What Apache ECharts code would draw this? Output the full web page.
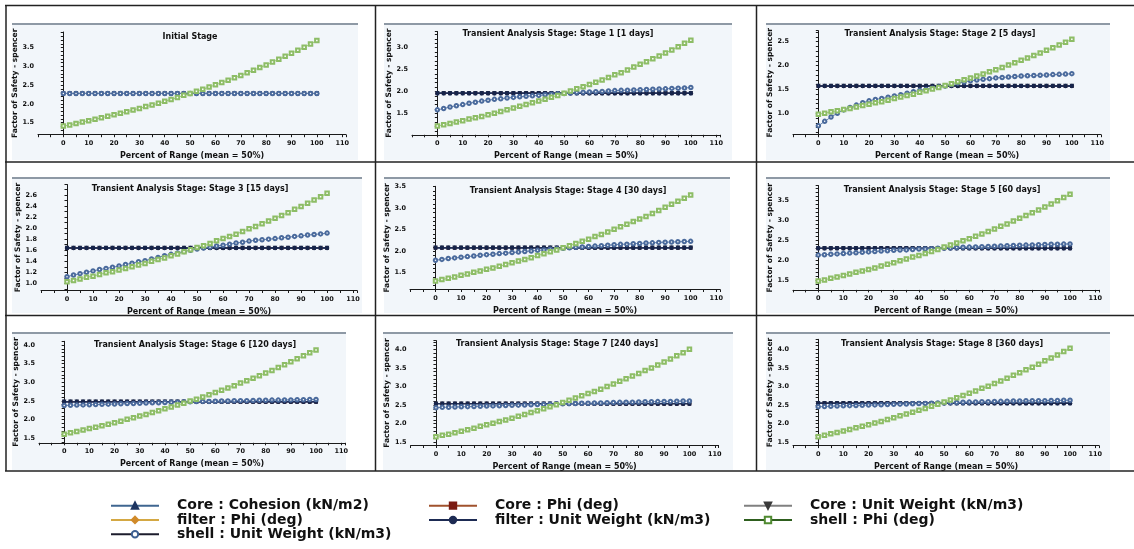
<!DOCTYPE html>
<html><head><meta charset="utf-8">
<script src="https://cdn.jsdelivr.net/npm/echarts@6/dist/echarts.min.js"></script>
<style>html,body{margin:0;padding:0;background:#fff}#c{width:1134px;height:549px}</style>
</head><body><div id="c"></div>
<script>
// ---------- DATA ----------
const xPct = [0,2.5,5,7.5,10,12.5,15,17.5,20,22.5,25,27.5,30,32.5,35,37.5,40,42.5,45,47.5,50,
  52.5,55,57.5,60,62.5,65,67.5,70,72.5,75,77.5,80,82.5,85,87.5,90,92.5,95,97.5,100];
const xTickLabels = [0,10,20,30,40,50,60,70,80,90,100,110];
const stageTitles = ['Initial Stage','Transient Analysis Stage: Stage 1 [1 days]','Transient Analysis Stage: Stage 2 [5 days]',
  'Transient Analysis Stage: Stage 3 [15 days]','Transient Analysis Stage: Stage 4 [30 days]','Transient Analysis Stage: Stage 5 [60 days]',
  'Transient Analysis Stage: Stage 6 [120 days]','Transient Analysis Stage: Stage 7 [240 days]','Transient Analysis Stage: Stage 8 [360 days]'];

// flat lines (Core cohesion / Core phi / filter phi / Core unit weight / filter unit weight)
const flat0 = [2.28,2.28,2.28,2.28,2.28,2.28,2.28,2.28,2.28,2.28,2.28,2.28,2.28,2.28,2.28,2.28,2.28,2.28,2.28,2.28,2.28,2.28,2.28,2.28,2.28,2.28,2.28,2.28,2.28,2.28,2.28,2.28,2.28,2.28,2.28,2.28,2.28,2.28,2.28,2.28,2.28];
const flat1 = [1.96,1.96,1.96,1.96,1.96,1.96,1.96,1.96,1.96,1.96,1.96,1.96,1.96,1.96,1.96,1.96,1.96,1.96,1.96,1.96,1.96,1.96,1.96,1.96,1.96,1.96,1.96,1.96,1.96,1.96,1.96,1.96,1.96,1.96,1.96,1.96,1.96,1.96,1.96,1.96,1.96];
const flat2 = [1.57,1.57,1.57,1.57,1.57,1.57,1.57,1.57,1.57,1.57,1.57,1.57,1.57,1.57,1.57,1.57,1.57,1.57,1.57,1.57,1.57,1.57,1.57,1.57,1.57,1.57,1.57,1.57,1.57,1.57,1.57,1.57,1.57,1.57,1.57,1.57,1.57,1.57,1.57,1.57,1.57];
const flat3 = [1.64,1.64,1.64,1.64,1.64,1.64,1.64,1.64,1.64,1.64,1.64,1.64,1.64,1.64,1.64,1.64,1.64,1.64,1.64,1.64,1.64,1.64,1.64,1.64,1.64,1.64,1.64,1.64,1.64,1.64,1.64,1.64,1.64,1.64,1.64,1.64,1.64,1.64,1.64,1.64,1.64];
const flat4 = [2.08,2.08,2.08,2.08,2.08,2.08,2.08,2.08,2.08,2.08,2.08,2.08,2.08,2.08,2.08,2.08,2.08,2.08,2.08,2.08,2.08,2.08,2.08,2.08,2.08,2.08,2.08,2.08,2.08,2.08,2.08,2.08,2.08,2.08,2.08,2.08,2.08,2.08,2.08,2.08,2.08];
const flat5 = [2.31,2.31,2.31,2.31,2.31,2.31,2.31,2.31,2.31,2.31,2.31,2.31,2.31,2.31,2.31,2.31,2.31,2.31,2.31,2.31,2.31,2.31,2.31,2.31,2.31,2.31,2.31,2.31,2.31,2.31,2.31,2.31,2.31,2.31,2.31,2.31,2.31,2.31,2.31,2.31,2.31];
const flat6 = [2.48,2.48,2.48,2.48,2.48,2.48,2.48,2.48,2.48,2.48,2.48,2.48,2.48,2.48,2.48,2.48,2.48,2.48,2.48,2.48,2.48,2.48,2.48,2.48,2.48,2.48,2.48,2.48,2.48,2.48,2.48,2.48,2.48,2.48,2.48,2.48,2.48,2.48,2.48,2.48,2.48];
const flat7 = [2.54,2.54,2.54,2.54,2.54,2.54,2.54,2.54,2.54,2.54,2.54,2.54,2.54,2.54,2.54,2.54,2.54,2.54,2.54,2.54,2.54,2.54,2.54,2.54,2.54,2.54,2.54,2.54,2.54,2.54,2.54,2.54,2.54,2.54,2.54,2.54,2.54,2.54,2.54,2.54,2.54];
const flat8 = [2.55,2.55,2.55,2.55,2.55,2.55,2.55,2.55,2.55,2.55,2.55,2.55,2.55,2.55,2.55,2.55,2.55,2.55,2.55,2.55,2.55,2.55,2.55,2.55,2.55,2.55,2.55,2.55,2.55,2.55,2.55,2.55,2.55,2.55,2.55,2.55,2.55,2.55,2.55,2.55,2.55];

// shell : Unit Weight (kN/m3)
const shellUW0 = flat0;
const shellUW1 = [1.58,1.61,1.645,1.675,1.70,1.73,1.755,1.78,1.80,1.82,1.835,1.85,1.865,1.88,1.89,1.90,1.91,1.925,1.935,1.945,
  1.955,1.965,1.975,1.98,1.99,1.995,2.00,2.01,2.02,2.025,2.03,2.035,2.04,2.045,2.05,2.055,2.06,2.07,2.075,2.08,2.09];
const shellUW2 = [0.735,0.83,0.92,1.00,1.07,1.12,1.17,1.22,1.26,1.29,1.31,1.335,1.36,1.39,1.42,1.45,1.48,1.50,1.525,1.55,
  1.57,1.60,1.63,1.655,1.68,1.695,1.71,1.725,1.74,1.75,1.76,1.77,1.78,1.785,1.79,1.795,1.80,1.81,1.815,1.82,1.83];
const shellUW3 = [1.12,1.15,1.175,1.20,1.225,1.25,1.27,1.29,1.315,1.34,1.365,1.39,1.41,1.44,1.47,1.50,1.525,1.55,1.575,1.60,
  1.62,1.64,1.655,1.675,1.69,1.71,1.73,1.745,1.765,1.78,1.79,1.80,1.81,1.825,1.835,1.85,1.86,1.875,1.885,1.895,1.91];
const shellUW4 = [1.79,1.81,1.83,1.845,1.86,1.875,1.89,1.905,1.92,1.93,1.945,1.955,1.97,1.98,1.995,2.005,2.02,2.03,2.045,2.055,
  2.07,2.08,2.09,2.10,2.11,2.12,2.13,2.14,2.15,2.16,2.165,2.175,2.18,2.19,2.195,2.205,2.21,2.215,2.22,2.225,2.23];
const shellUW5 = [2.14,2.15,2.16,2.17,2.18,2.19,2.20,2.21,2.22,2.23,2.24,2.25,2.26,2.265,2.27,2.28,2.29,2.295,2.30,2.31,
  2.315,2.32,2.33,2.335,2.34,2.345,2.35,2.355,2.36,2.37,2.375,2.38,2.385,2.39,2.395,2.40,2.405,2.41,2.41,2.415,2.42];
const shellUW6 = [2.38,2.385,2.39,2.395,2.40,2.405,2.41,2.415,2.42,2.425,2.43,2.435,2.44,2.445,2.45,2.455,2.46,2.465,2.47,2.475,
  2.48,2.485,2.49,2.49,2.495,2.50,2.50,2.505,2.51,2.51,2.515,2.52,2.52,2.525,2.525,2.53,2.53,2.535,2.535,2.54,2.54];
const shellUW7 = [2.43,2.44,2.445,2.45,2.455,2.46,2.465,2.47,2.475,2.48,2.485,2.49,2.495,2.50,2.505,2.51,2.515,2.52,2.525,2.53,
  2.535,2.54,2.545,2.55,2.55,2.555,2.56,2.565,2.57,2.575,2.58,2.58,2.585,2.59,2.59,2.595,2.60,2.60,2.605,2.61,2.61];
const shellUW8 = [2.455,2.46,2.47,2.475,2.48,2.485,2.49,2.495,2.50,2.505,2.51,2.515,2.52,2.525,2.53,2.535,2.54,2.545,2.55,2.555,
  2.56,2.565,2.57,2.575,2.58,2.585,2.59,2.59,2.595,2.60,2.605,2.61,2.61,2.615,2.615,2.62,2.62,2.625,2.625,2.63,2.63];

// shell : Phi (deg)
const shellPhi0 = [1.41,1.44,1.48,1.52,1.55,1.59,1.63,1.67,1.71,1.75,1.79,1.84,1.88,1.93,1.97,2.02,2.07,2.12,2.17,2.23,
  2.28,2.34,2.39,2.45,2.51,2.57,2.63,2.70,2.76,2.83,2.90,2.97,3.04,3.12,3.19,3.27,3.35,3.43,3.51,3.60,3.69];
const shellPhi1 = [1.21,1.24,1.27,1.30,1.33,1.37,1.40,1.43,1.47,1.50,1.54,1.58,1.62,1.66,1.70,1.74,1.78,1.82,1.87,1.91,
  1.96,2.01,2.06,2.11,2.16,2.21,2.26,2.32,2.38,2.43,2.49,2.56,2.62,2.68,2.75,2.81,2.88,2.95,3.02,3.10,3.17];
const shellPhi2 = [0.98,1.00,1.03,1.05,1.08,1.10,1.13,1.16,1.19,1.22,1.24,1.27,1.31,1.34,1.37,1.40,1.44,1.47,1.51,1.54,
  1.58,1.62,1.66,1.70,1.74,1.78,1.82,1.87,1.91,1.96,2.01,2.06,2.11,2.16,2.21,2.26,2.32,2.37,2.43,2.49,2.55];
const shellPhi3 = [1.03,1.05,1.08,1.11,1.13,1.16,1.19,1.21,1.24,1.27,1.30,1.33,1.36,1.40,1.43,1.46,1.50,1.53,1.57,1.61,
  1.65,1.68,1.72,1.77,1.81,1.85,1.89,1.94,1.99,2.03,2.08,2.13,2.18,2.23,2.28,2.34,2.39,2.45,2.51,2.57,2.63];
const shellPhi4 = [1.31,1.34,1.37,1.40,1.44,1.47,1.51,1.54,1.58,1.61,1.65,1.69,1.73,1.77,1.81,1.85,1.90,1.94,1.99,2.03,
  2.08,2.13,2.18,2.23,2.28,2.34,2.39,2.45,2.51,2.57,2.63,2.69,2.75,2.81,2.88,2.95,3.02,3.09,3.16,3.23,3.31];
const shellPhi5 = [1.49,1.52,1.56,1.59,1.63,1.67,1.71,1.74,1.78,1.82,1.87,1.91,1.95,2.00,2.04,2.09,2.13,2.18,2.23,2.28,
  2.34,2.39,2.44,2.50,2.55,2.61,2.67,2.73,2.79,2.86,2.92,2.99,3.06,3.13,3.20,3.27,3.34,3.42,3.50,3.58,3.66];
const shellPhi6 = [1.61,1.65,1.68,1.72,1.76,1.80,1.84,1.88,1.92,1.96,2.01,2.05,2.10,2.14,2.19,2.24,2.29,2.34,2.39,2.44,
  2.50,2.55,2.61,2.67,2.73,2.79,2.85,2.91,2.98,3.04,3.11,3.18,3.25,3.32,3.40,3.47,3.55,3.63,3.71,3.79,3.87];
const shellPhi7 = [1.65,1.69,1.72,1.76,1.80,1.84,1.88,1.93,1.97,2.01,2.06,2.10,2.15,2.20,2.25,2.30,2.35,2.40,2.46,2.51,
  2.57,2.63,2.69,2.75,2.81,2.87,2.93,3.00,3.07,3.14,3.21,3.28,3.35,3.43,3.50,3.58,3.66,3.74,3.83,3.91,4.00];
const shellPhi8 = [1.65,1.69,1.73,1.76,1.80,1.84,1.89,1.93,1.97,2.02,2.06,2.11,2.16,2.21,2.26,2.31,2.36,2.41,2.47,2.52,
  2.58,2.64,2.70,2.76,2.82,2.88,2.95,3.01,3.08,3.15,3.22,3.30,3.37,3.45,3.52,3.60,3.69,3.77,3.85,3.94,4.03];

// y axis extents and label steps per panel
const yMin = [1.18,1.01,0.55,0.87,1.11,1.27,1.38,1.415,1.41];
const yMax = [3.92,3.37,2.73,2.79,3.51,3.88,4.10,4.235,4.27];
const yLabelStep = [0.5,0.5,0.5,0.2,0.5,0.5,0.5,0.5,0.5];

const flats = [flat0,flat1,flat2,flat3,flat4,flat5,flat6,flat7,flat8];
const shellUWs = [shellUW0,shellUW1,shellUW2,shellUW3,shellUW4,shellUW5,shellUW6,shellUW7,shellUW8];
const shellPhis = [shellPhi0,shellPhi1,shellPhi2,shellPhi3,shellPhi4,shellPhi5,shellPhi6,shellPhi7,shellPhi8];

// ---------- LAYOUT ----------
const FONT = 'DejaVu Sans';
const layout = [
  {left:38,   top:32,    width:308, height:102.7, tx:190, ty:38,  bg:[12,24,346,136]},
  {left:412,  top:31.5,  width:308, height:103.3, tx:558, ty:35,  bg:[384,24,348,136]},
  {left:793,  top:30.7,  width:308, height:104,   tx:940, ty:35,  bg:[766,24,344,136]},
  {left:41,   top:184.5, width:316, height:106,   tx:190, ty:190, bg:[12,178,350,135]},
  {left:410,  top:186.3, width:310, height:103.2, tx:568, ty:192, bg:[384,178,346,135]},
  {left:793,  top:185.5, width:306, height:104.4, tx:942, ty:191, bg:[766,178,344,135]},
  {left:39,   top:341.3, width:306, height:101.5, tx:195, ty:346, bg:[12,333,334,137]},
  {left:410.6,top:340.6, width:308, height:104.9, tx:557, ty:345, bg:[383,333,350,137]},
  {left:793,  top:339.3, width:306, height:106.3, tx:942, ty:345, bg:[766,333,344,137]}
];
const downTri = 'path://M0,0 L10,0 L5,10 Z';
const seriesDefs = [
  {name:'Core : Cohesion (kN/m2)', src:flats, symbol:'triangle', size:4, color:'#2c4a7c', line:'#1d2b53'},
  {name:'Core : Phi (deg)', src:flats, symbol:'rect', size:3.5, color:'#7a2416', line:'#1d2b53'},
  {name:'filter : Phi (deg)', src:flats, symbol:'diamond', size:4, color:'#c8822a', line:'#1d2b53'},
  {name:'Core : Unit Weight (kN/m3)', src:flats, symbol:downTri, size:4.5, color:'#2a3550', line:'#1d2b53'},
  {name:'filter : Unit Weight (kN/m3)', src:flats, symbol:'circle', size:4.5, color:'#16244a', line:'#22325f'},
  {name:'shell : Unit Weight (kN/m3)', src:shellUWs, symbol:'emptyCircle', size:3.5, color:'#4a6a9c', line:'#6582b0'},
  {name:'shell : Phi (deg)', src:shellPhis, symbol:'emptyRect', size:3.5, color:'#8dbd66', line:'#a5cf82'}
];

const grids=[], xAxes=[], yAxes=[], series=[], titles=[], graphics=[];
layout.forEach((L,i)=>{
  grids.push({left:L.left, top:L.top, width:L.width, height:L.height, containLabel:false});
  xAxes.push({gridIndex:i, type:'value', min:-10, max:111.5, interval:10,
    axisLine:{lineStyle:{color:'#1a1a1a', width:1}},
    axisTick:{length:2.5, lineStyle:{color:'#1a1a1a'}},
    minorTick:{show:true, splitNumber:2, length:2.5, lineStyle:{color:'#1a1a1a'}},
    splitLine:{show:false},
    axisLabel:{fontFamily:FONT, fontWeight:'bold', fontSize:6.5, color:'#111', margin:5,
      formatter:v=> (xTickLabels.indexOf(Math.round(v*1000)/1000)>=0 && Math.abs(v-Math.round(v))<1e-6) ? String(v) : ''},
    name:'Percent of Range (mean = 50%)', nameLocation:'middle', nameGap:17,
    nameTextStyle:{fontFamily:FONT, fontWeight:'bold', fontSize:8, color:'#111'}});
  const st = yLabelStep[i];
  yAxes.push({gridIndex:i, type:'value', min:yMin[i], max:yMax[i], minInterval:st, maxInterval:st,
    axisLine:{show:true, lineStyle:{color:'#1a1a1a', width:1}},
    axisTick:{show:true, length:2.5, lineStyle:{color:'#1a1a1a'}},
    minorTick:{show:true, splitNumber:Math.round(st/0.1), length:2.5, lineStyle:{color:'#1a1a1a'}},
    splitLine:{show:false},
    axisLabel:{fontFamily:FONT, fontWeight:'bold', fontSize:6.5, color:'#111', margin:4,
      formatter:v=>{const q=v/st; return Math.abs(q-Math.round(q))<1e-6 ? v.toFixed(1) : '';}},
    name:'Factor of Safety - spencer', nameLocation:'middle', nameGap:17, nameRotate:90,
    nameTextStyle:{fontFamily:FONT, fontWeight:'bold', fontSize:7.5, color:'#111'}});
  titles.push({text:stageTitles[i], left:L.tx, top:L.ty-5, textAlign:'center', padding:0,
    textStyle:{fontFamily:FONT, fontWeight:'bold', fontSize:8, color:'#111'}});
  seriesDefs.forEach(d=>{
    const ys = d.src[i];
    series.push({name:d.name, type:'line', xAxisIndex:i, yAxisIndex:i,
      data:xPct.map((x,j)=>[x, ys[j]]),
      symbol:d.symbol, symbolSize:d.size, showAllSymbol:true,
      lineStyle:{color:d.line, width:1}, itemStyle:{color:d.color, borderWidth:1},
      emphasis:{disabled:true}, animation:false});
  });
  graphics.push({type:'rect', z:-10, shape:{x:L.bg[0], y:L.bg[1], width:L.bg[2], height:L.bg[3]}, style:{fill:'#f2f6fa'}});
  graphics.push({type:'line', z:-9, shape:{x1:L.bg[0], y1:L.bg[1], x2:L.bg[0]+L.bg[2], y2:L.bg[1]}, style:{stroke:'#8e99a5', lineWidth:2}});
});
// panel frame lines
[[5,5.5,1134,5.5],[5,162,1134,162],[5,315.5,1134,315.5],[5,471,1134,471],
 [6,5,6,471],[375.5,5,375.5,471],[756.5,5,756.5,471]].forEach(s=>{
  graphics.push({type:'line', z:20, shape:{x1:s[0],y1:s[1],x2:s[2],y2:s[3]}, style:{stroke:'#222', lineWidth:1.5}});
});

const legendText = {fontFamily:FONT, fontWeight:'bold', fontSize:14, lineHeight:14.3, color:'#111', padding:[0,0,0,13]};
const legItem = (name, line, mark, symbolStroke) => ({name, lineStyle:{color:line, width:2},
  itemStyle:{color:mark, borderColor:symbolStroke||mark}});
const legBase = {orient:'vertical', top:498.5, itemGap:0, itemWidth:48, itemHeight:8, padding:0, selectedMode:false, textStyle:legendText};

const option = {
  backgroundColor:'#ffffff',
  animation:false,
  title:titles,
  grid:grids, xAxis:xAxes, yAxis:yAxes, series:series,
  graphic:{elements:graphics},
  legend:[
    Object.assign({left:110, data:[
      legItem('Core : Cohesion (kN/m2)','#3f6690','#1d3461'),
      legItem('filter : Phi (deg)','#d4a843','#d08a2a'),
      legItem('shell : Unit Weight (kN/m3)','#1c1c2c','#3d5f91')]}, legBase),
    Object.assign({left:428, data:[
      legItem('Core : Phi (deg)','#a0522d','#7a1a12'),
      legItem('filter : Unit Weight (kN/m3)','#1d2b53','#1d2b53')]}, legBase),
    Object.assign({left:743, data:[
      legItem('Core : Unit Weight (kN/m3)','#808080','#3a3a3a'),
      legItem('shell : Phi (deg)','#2e5e1e','#4f8a30')]}, legBase)
  ]
};
const chart = echarts.init(document.getElementById('c'));
chart.setOption(option);
</script></body></html>
